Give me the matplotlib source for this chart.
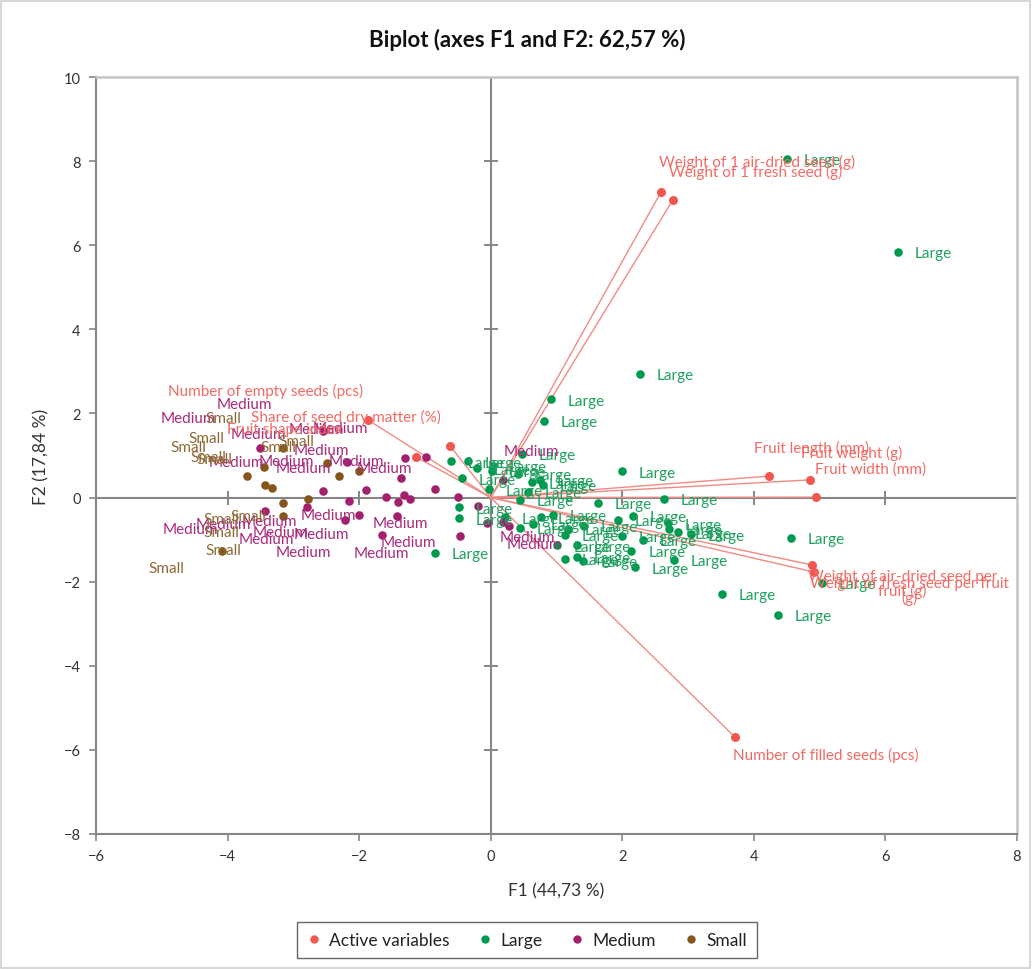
import matplotlib
matplotlib.use("Agg")
import matplotlib.pyplot as plt
from matplotlib.lines import Line2D
from matplotlib.patches import Rectangle

plt.rcParams['font.family'] = ['Lato', 'DejaVu Sans']

# ---------------- data ----------------
var_names = [
    "Weight of 1 air-dried seed (g)",
    "Weight of 1 fresh seed (g)",
    "Fruit length (mm)",
    "Fruit weight (g)",
    "Fruit width (mm)",
    "Weight of air-dried seed per\nfruit (g)",
    "Weight of fresh seed per fruit\n(g)",
    "Number of filled seeds (pcs)",
    "Share of seed dry matter (%)",
    "Number of empty seeds (pcs)",
    "Fruit shape index",
]
var_f1 = [2.59, 2.77, 4.23, 4.85, 4.94, 4.88, 4.91, 3.71, -1.87, -1.13, -0.62]
var_f2 = [7.27, 7.08, 0.51, 0.42, 0.01, -1.60, -1.77, -5.69, 1.85, 0.96, 1.23]
# label anchors of the variables (centre of text)
var_label_f1 = [4.05, 4.03, 4.88, 5.49, 5.78, 6.26, 6.37, 5.09, -2.20, -3.43, -3.13]
var_label_f2 = [7.98, 7.76, 1.18, 1.08, 0.70, -2.05, -2.22, -6.12, 1.92, 2.54, 1.63]

large_f1 = [4.50, 6.19, 2.27, 0.91, 0.81, 0.47, -0.60, -0.34, -0.21, -0.43, -0.03, 0.02,
            0.04, 0.41, 0.62, 0.57, 0.75, 0.80, 0.44, 2.00, 1.63, 2.64, -0.48, -0.48,
            0.22, 0.44, 0.65, 0.77, 0.95, 1.18, 1.13, 1.42, 1.94, 2.00, 2.16, 2.32,
            2.70, 2.71, 2.84, 3.04, 1.31, 1.01, 1.13, 1.31, 1.41, 2.14, 2.19, 2.79,
            4.57, 5.04, 3.51, 4.37, -0.84]
large_f2 = [8.05, 5.84, 2.94, 2.34, 1.82, 1.04, 0.86, 0.86, 0.70, 0.46, 0.20, 0.64,
            0.76, 0.56, 0.36, 0.13, 0.42, 0.30, -0.06, 0.62, -0.13, -0.03, -0.23, -0.49,
            -0.47, -0.72, -0.63, -0.47, -0.41, -0.75, -0.89, -0.67, -0.53, -0.91, -0.44, -1.01,
            -0.61, -0.75, -0.83, -0.87, -1.14, -1.14, -1.46, -1.41, -1.50, -1.26, -1.66, -1.48,
            -0.96, -2.03, -2.29, -2.79, -1.32]

medium_f1 = [-3.50, -2.55, -2.55, -3.43, -2.80, -1.30, -0.99, -1.37, -0.84, -1.90,
             -1.59, -1.32, -1.22, -1.41, -2.16, -0.50, -0.20, -2.00, -2.22, -1.43,
             -1.65, -0.46, -0.06, -2.19, 0.19, 0.19, 0.28]
medium_f2 = [1.19, 1.58, 0.15, -0.33, -0.22, 0.93, 0.96, 0.46, 0.20, 0.18,
             0.02, 0.05, -0.03, -0.11, -0.09, 0.02, -0.19, -0.41, -0.53, -0.44,
             -0.88, -0.92, -0.61, 0.85, 0.41, -0.58, -0.68]
medium_label_f1 = [-3.74, -4.60, -3.53, -2.65, -2.29, -2.57, -3.86, -3.10, -2.04, -2.85,
                   -1.61, -2.47, -3.36, -4.07, -4.57, -3.20, -2.57, -3.41, -1.38, -1.25,
                   -1.66, -2.85, 0.62, 0.55, 0.67]
medium_label_f2 = [2.23, 1.89, 1.51, 1.63, 1.65, 1.14, 0.85, 0.88, 0.88, 0.70,
                   0.70, -0.41, -0.55, -0.63, -0.75, -0.83, -0.87, -0.98, -0.60, -1.05,
                   -1.32, -1.29, 1.11, -0.94, -1.10]

small_f1 = [-3.70, -3.44, -3.43, -3.32, -3.15, -3.15, -3.15, -2.77, -2.49, -2.31, -2.00, -4.08]
small_f2 = [0.51, 0.72, 0.30, 0.22, 1.19, -0.14, -0.45, -0.03, 0.81, 0.51, 0.64, -1.26]
small_label_f1 = [-4.07, -4.32, -4.60, -4.29, -4.20, -3.23, -2.95, -4.09, -3.69, -4.09, -4.07, -4.93]
small_label_f2 = [1.89, 1.41, 1.20, 0.96, 0.92, 1.20, 1.35, -0.51, -0.43, -0.83, -1.24, -1.68]

xticks = [-6, -4, -2, 0, 2, 4, 6, 8]
yticks = [-8, -6, -4, -2, 0, 2, 4, 6, 8, 10]

# ---------------- style ----------------
c_var = '#F0574F'
c_var_txt = '#F26A64'
c_var_line = '#F28A84'
c_large = '#009A4E'
c_large_txt = '#1FA05E'
c_med = '#A3206E'
c_med_txt = '#A82A7A'
c_small = '#84561B'
c_small_txt = '#8C6A34'
axis_grey = '#868686'

fig = plt.figure(figsize=(10.32, 9.70), dpi=100)
fig.patches.append(Rectangle((0.001, 0.001), 0.997, 0.997, transform=fig.transFigure,
                             fill=False, edgecolor='#D0D0D0', linewidth=1.2))
ax = fig.add_axes([96 / 1032, 1 - 835 / 970, 921 / 1032, 757 / 970])
ax.set_xlim(-6, 8)
ax.set_ylim(-8, 10)
ax.set_xticks(xticks)
ax.set_yticks(yticks)
ax.tick_params(direction='out', length=5, width=1.2, color=axis_grey,
               labelsize=10.5, labelcolor='#333333', pad=6)
for s in ['left', 'bottom']:
    ax.spines[s].set_color(axis_grey)
    ax.spines[s].set_linewidth(1.5)
for s in ['top', 'right']:
    ax.spines[s].set_color('#C4C4C4')
    ax.spines[s].set_linewidth(1.8)

# zero axes with cross ticks
ax.axhline(0, color=axis_grey, lw=1.5, zorder=1)
ax.axvline(0, color=axis_grey, lw=1.5, zorder=1)
inner_x = [t for t in xticks if t not in (xticks[0], 0, xticks[-1])]
inner_y = [t for t in yticks if t not in (yticks[0], 0, yticks[-1])]
ax.plot(inner_x, [0] * len(inner_x), ls='none', marker='|',
        ms=10, mew=1.4, color=axis_grey, zorder=1)
ax.plot([0] * len(inner_y), inner_y, ls='none', marker='_',
        ms=10, mew=1.4, color=axis_grey, zorder=1)

# variable vectors
for fx, fy in zip(var_f1, var_f2):
    ax.plot([0, fx], [0, fy], color=c_var_line, lw=1.0, zorder=2)

lab_fs = 11
# observations
ax.scatter(large_f1, large_f2, s=38, color=c_large, zorder=3, linewidths=0)
ax.scatter(medium_f1, medium_f2, s=38, color=c_med, zorder=3, linewidths=0)
ax.scatter(small_f1, small_f2, s=38, color=c_small, zorder=3, linewidths=0)
ax.scatter(var_f1, var_f2, s=42, color=c_var, zorder=3, linewidths=0)

for fx, fy in zip(large_f1, large_f2):
    ax.annotate('Large', (fx, fy), xytext=(12, -1), textcoords='offset points',
                ha='left', va='center', fontsize=lab_fs, color=c_large_txt, zorder=4)
for fx, fy in zip(medium_label_f1, medium_label_f2):
    ax.text(fx, fy, 'Medium', ha='center', va='center', fontsize=lab_fs,
            color=c_med_txt, zorder=4)
for fx, fy in zip(small_label_f1, small_label_f2):
    ax.text(fx, fy, 'Small', ha='center', va='center', fontsize=lab_fs,
            color=c_small_txt, zorder=4)
for name, fx, fy in zip(var_names, var_label_f1, var_label_f2):
    ax.text(fx, fy, name, ha='center', va='center', fontsize=lab_fs,
            color=c_var_txt, zorder=4, linespacing=1.0)

ax.set_xlabel('F1 (44,73 %)', fontsize=12.5, color='#333333', labelpad=14)
ax.set_ylabel('F2 (17,84 %)', fontsize=12.5, color='#333333', labelpad=10)
fig.text(527 / 1032, 1 - 40 / 970, 'Biplot (axes F1 and F2: 62,57 %)',
         ha='center', va='center', fontsize=16, fontweight='bold', color='#111111')

handles = [Line2D([], [], ls='none', marker='o', ms=6, color=c, mew=0)
           for c in [c_var, c_large, c_med, c_small]]
leg = fig.legend(handles, ['Active variables', 'Large', 'Medium', 'Small'],
                 loc='center', bbox_to_anchor=(527 / 1032, 1 - 941 / 970), ncol=4,
                 fontsize=12.5, frameon=True, fancybox=False, handlelength=0.8,
                 handletextpad=0.5, columnspacing=1.6, borderpad=0.55,
                 labelcolor='#222222')
leg.get_frame().set_edgecolor('#404040')
leg.get_frame().set_linewidth(1.0)

fig.savefig('out.png', dpi=100)
